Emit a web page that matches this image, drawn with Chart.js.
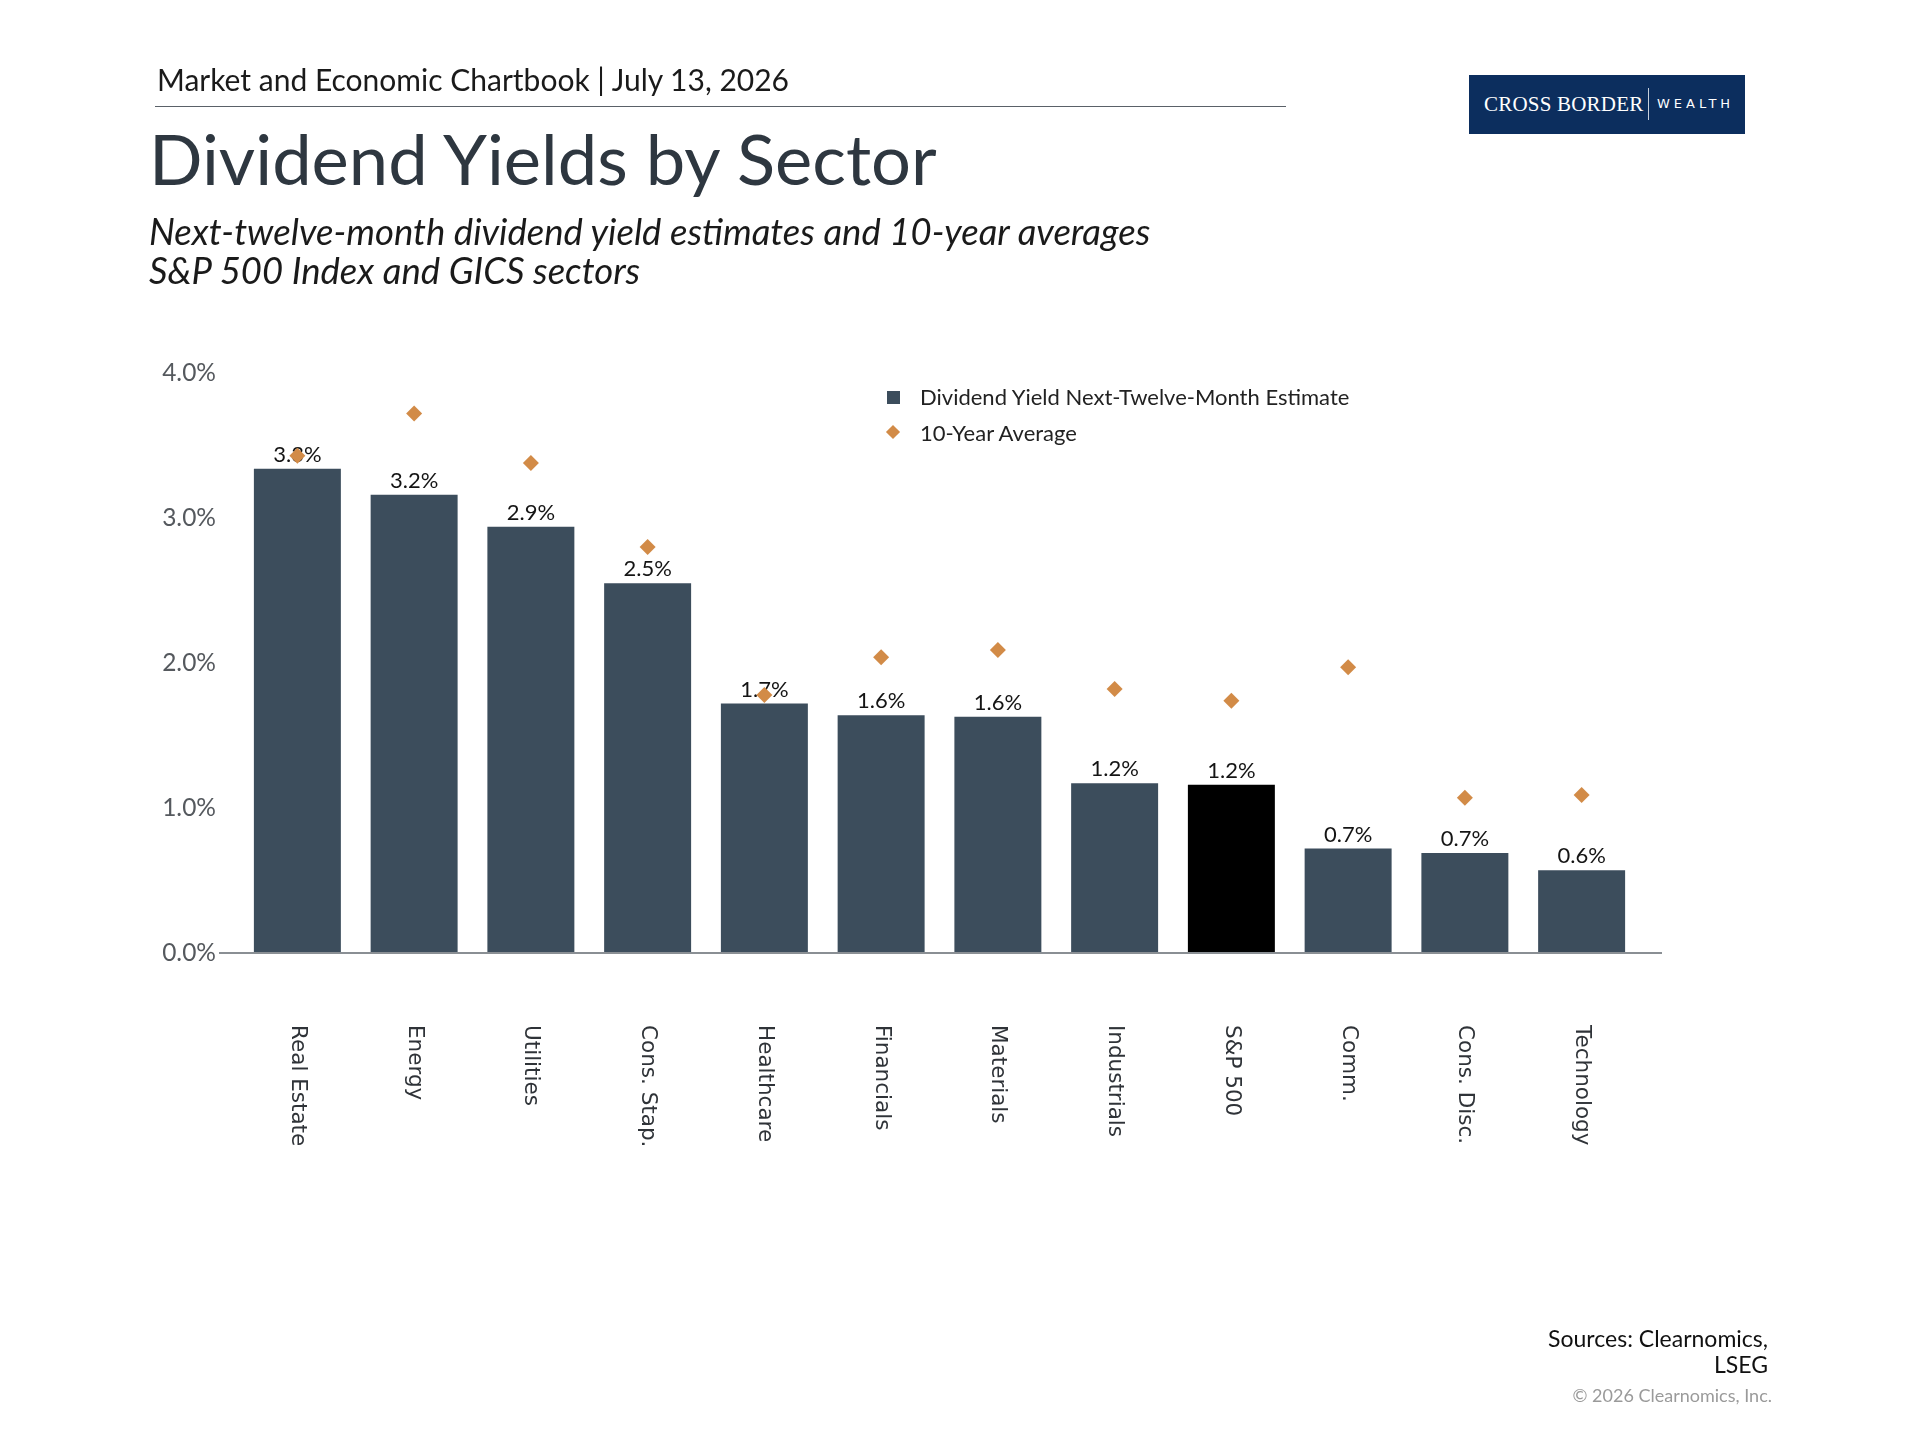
<!DOCTYPE html>
<html>
<head>
<meta charset="utf-8">
<script src="https://cdn.jsdelivr.net/npm/chart.js@4.4.1/dist/chart.umd.min.js"></script>
<style>
  html, body { margin: 0; padding: 0; background: #fff; }
  #page { position: relative; width: 1920px; height: 1440px; overflow: hidden; font-family: Lato, "Noto Sans", sans-serif; }
  #chart { position: absolute; left: 0; top: 0; }
  .abs { position: absolute; white-space: nowrap; }
  #kicker { left: 157px; top: 61px; font-size: 30px; color: #1a1a1a; }
  #rule { left: 155px; top: 106px; width: 1131px; height: 0; border-top: 1.5px solid #5a6168; }
  #title { left: 149px; top: 115px; font-size: 70.5px; color: #2e3740; }
  #sub1, #sub2 { left: 149px; font-size: 36.5px; font-style: italic; color: #1a1a1a; }
  #sub1 { top: 209px; }
  #sub2 { top: 248px; }
  #logo { left: 1469px; top: 75px; width: 276px; height: 59px; background: #0c2e5e; color: #fff; }
  #logo .cb { position: absolute; left: 15px; top: 17px; font-family: "Liberation Serif", serif; font-size: 21px; letter-spacing: 0.2px; }
  #logo .bar { position: absolute; left: 179px; top: 13px; width: 1px; height: 32px; background: #c8d0dc; }
  #logo .w { position: absolute; left: 188px; top: 21px; font-family: "DejaVu Sans", sans-serif; font-size: 13px; letter-spacing: 4px; }
  .leg { font-size: 22px; color: #222; }
  #sources { right: 152px; top: 1325px; font-size: 23px; color: #111; text-align: right; line-height: 26px; }
  #copy { right: 148px; top: 1384px; font-size: 18px; color: #9a9a9a; }
</style>
</head>
<body>
<div id="page">
  <canvas id="chart" width="1920" height="1440"></canvas>
  <div class="abs" id="kicker">Market and Economic Chartbook | July 13, 2026</div>
  <div class="abs" id="rule"></div>
  <div class="abs" id="title">Dividend Yields by Sector</div>
  <div class="abs" id="sub1">Next-twelve-month dividend yield estimates and 10-year averages</div>
  <div class="abs" id="sub2">S&amp;P 500 Index and GICS sectors</div>
  <div class="abs" id="logo"><span class="cb">CROSS BORDER</span><span class="bar"></span><span class="w">WEALTH</span></div>
  <div class="abs" id="legend"></div>
  <div class="abs" id="sources">Sources: Clearnomics,<br>LSEG</div>
  <div class="abs" id="copy">© 2026 Clearnomics, Inc.</div>
</div>
<script>
  const categories = ["Real Estate", "Energy", "Utilities", "Cons. Stap.", "Healthcare", "Financials",
    "Materials", "Industrials", "S&P 500", "Comm.", "Cons. Disc.", "Technology"];
  const nextTwelveMonth = [3.34, 3.16, 2.94, 2.55, 1.72, 1.64, 1.63, 1.17, 1.16, 0.72, 0.69, 0.57];
  const tenYearAverage = [3.43, 3.72, 3.38, 2.80, 1.78, 2.04, 2.09, 1.82, 1.74, 1.97, 1.07, 1.09];
  const seriesNames = ["Dividend Yield Next-Twelve-Month Estimate", "10-Year Average"];

  const BAR_COLOR = "#3c4d5c";
  const INDEX_COLOR = "#000000";
  const DIAMOND_COLOR = "#d28b47";

  // legend as real text
  const legend = document.getElementById("legend");
  legend.innerHTML = `
    <div class="abs leg" style="left:887px;top:383px;">
      <span style="position:absolute;left:0;top:8px;width:13px;height:13px;background:${BAR_COLOR};"></span>
      <span style="position:absolute;left:33px;top:0;">${seriesNames[0]}</span>
    </div>
    <div class="abs leg" style="left:887px;top:419px;">
      <span style="position:absolute;left:1px;top:8px;width:10px;height:10px;background:${DIAMOND_COLOR};transform:rotate(45deg);"></span>
      <span style="position:absolute;left:33px;top:0;">${seriesNames[1]}</span>
    </div>`;

  const barValueLabels = {
    id: "barValueLabels",
    afterDatasetDraw(chart, args) {
      if (args.index !== 0) return;
      const ctx = chart.ctx;
      ctx.save();
      ctx.font = "22px Lato, sans-serif";
      ctx.fillStyle = "#141414";
      ctx.textAlign = "center";
      ctx.textBaseline = "bottom";
      args.meta.data.forEach((bar, i) => {
        ctx.fillText(nextTwelveMonth[i].toFixed(1) + "%", bar.x, bar.y - 3);
      });
      ctx.restore();
    },
  };

  const axisAndLabels = {
    id: "axisAndLabels",
    afterDraw(chart) {
      const ctx = chart.ctx;
      const area = chart.chartArea;
      const xScale = chart.scales.x;
      ctx.save();
      ctx.strokeStyle = "#8a8f94";
      ctx.lineWidth = 2;
      ctx.beginPath();
      ctx.moveTo(area.left - 20, area.bottom);
      ctx.lineTo(area.right + 22, area.bottom);
      ctx.stroke();

      // sector names read top-to-bottom
      ctx.font = "21.5px 'DejaVu Sans', sans-serif";
      ctx.fillStyle = "#2f3338";
      ctx.textAlign = "left";
      ctx.textBaseline = "middle";
      categories.forEach((name, i) => {
        ctx.save();
        ctx.translate(xScale.getPixelForTick(i), area.bottom + 72);
        ctx.rotate(Math.PI / 2);
        ctx.fillText(name, 0, 0);
        ctx.restore();
      });
      ctx.restore();
    },
  };

  new Chart(document.getElementById("chart"), {
    data: {
      labels: categories,
      datasets: [
        {
          type: "bar",
          label: seriesNames[0],
          data: nextTwelveMonth,
          backgroundColor: categories.map((c) => (c === "S&P 500" ? INDEX_COLOR : BAR_COLOR)),
          borderWidth: 0,
          categoryPercentage: 1,
          barPercentage: 0.745,
          order: 2,
        },
        {
          type: "line",
          label: seriesNames[1],
          data: tenYearAverage,
          showLine: false,
          pointStyle: "rectRot",
          pointRadius: 8,
          pointBackgroundColor: DIAMOND_COLOR,
          pointBorderWidth: 0,
          order: 1,
        },
      ],
    },
    options: {
      responsive: false,
      animation: false,
      layout: { padding: { top: 373, right: 280, bottom: 0, left: 0 } },
      plugins: { legend: { display: false }, tooltip: { enabled: false } },
      scales: {
        x: {
          grid: { display: false },
          border: { display: false },
          ticks: { display: false },
          afterFit: (scale) => { scale.height = 487; },
        },
        y: {
          min: 0,
          max: 4,
          grid: { display: false, drawTicks: false },
          border: { display: false },
          ticks: {
            stepSize: 1,
            padding: 23,
            color: "#55595e",
            font: { family: "Lato", size: 24.5 },
            callback: (v) => v.toFixed(1) + "%",
          },
          afterFit: (scale) => { scale.width = 239; },
        },
      },
    },
    plugins: [barValueLabels, axisAndLabels],
  });
</script>
</body>
</html>
